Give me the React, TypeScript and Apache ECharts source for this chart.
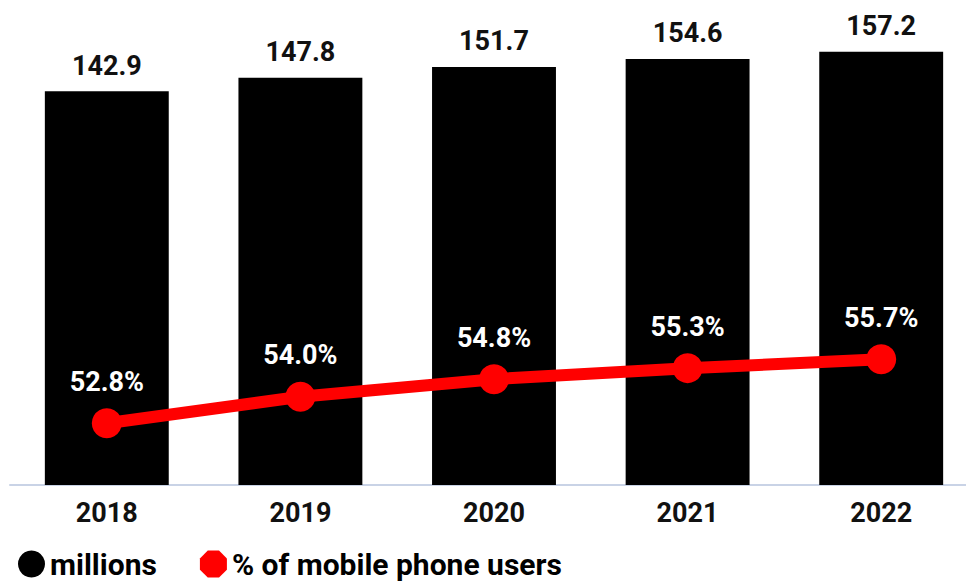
import React, { useEffect, useRef } from "react";
import * as echarts from "echarts";

const years = ["2018", "2019", "2020", "2021", "2022"];
const millions = [142.9, 147.8, 151.7, 154.6, 157.2];
const mobileShare = [52.8, 54.0, 54.8, 55.3, 55.7];
const seriesNames = ["millions", "% of mobile phone users"];

const FONT = "Roboto, 'Liberation Sans', Arial, sans-serif";

export default function App() {
  const ref = useRef<HTMLDivElement>(null);
  useEffect(() => {
    document.body.style.margin = "0";
    if (!ref.current) return;
    const chart = echarts.init(ref.current, null, { renderer: "svg" });
    chart.setOption({
      animation: false,
      backgroundColor: "#ffffff",
      textStyle: { fontFamily: FONT },
      grid: {
        left: 10,
        width: 968,
        top: 44,
        height: 441,
        containLabel: false,
        outerBoundsMode: "none",
      },
      legend: {
        left: 13,
        top: 544,
        itemGap: 43,
        itemWidth: 27,
        itemHeight: 27,
        textStyle: { fontFamily: FONT, fontWeight: "bold", fontSize: 30, color: "#000" },
        data: [
          { name: seriesNames[0], icon: "circle" },
          { name: seriesNames[1], icon: "path://M7,0 L17,0 L24,7 L24,17 L17,24 L7,24 L0,17 L0,7 Z" },
        ],
      },
      xAxis: {
        type: "category",
        data: years,
        axisLine: { show: true, lineStyle: { color: "#c9d3e6", width: 2 } },
        axisTick: { show: false },
        axisLabel: { margin: 14, fontFamily: FONT, fontWeight: "bold", fontSize: 27, color: "#111" },
      },
      yAxis: [
        { type: "value", min: 0, max: 160, show: false, splitLine: { show: false } },
        { type: "value", min: 50, max: 70, show: false, splitLine: { show: false } },
      ],
      series: [
        {
          name: seriesNames[0],
          type: "bar",
          data: millions,
          barWidth: "64%",
          itemStyle: { color: "#000" },
          label: {
            show: true,
            position: "top",
            distance: 12,
            fontFamily: FONT,
            fontWeight: "bold",
            fontSize: 27,
            color: "#111",
            formatter: (p: any) => p.value.toFixed(1),
          },
        },
        {
          name: seriesNames[1],
          type: "line",
          yAxisIndex: 1,
          data: mobileShare,
          symbol: "circle",
          symbolSize: 30,
          lineStyle: { color: "#ff0000", width: 12 },
          itemStyle: { color: "#ff0000" },
          label: {
            show: true,
            position: "top",
            distance: 13,
            fontFamily: FONT,
            fontWeight: "bold",
            fontSize: 27,
            color: "#fff",
            formatter: (p: any) => p.value.toFixed(1) + "%",
          },
        },
      ],
    });
    return () => chart.dispose();
  }, []);
  return <div ref={ref} style={{ width: 966, height: 583 }} />;
}
